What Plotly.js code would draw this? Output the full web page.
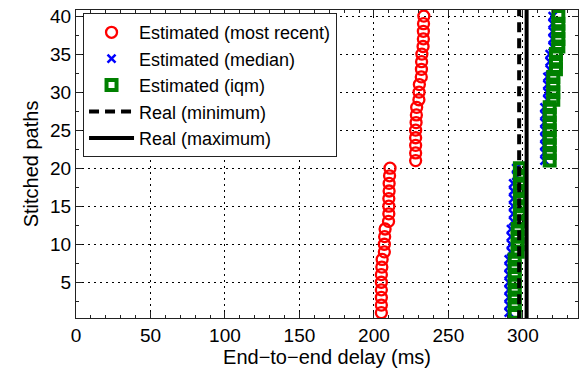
<!DOCTYPE html>
<html>
<head>
<meta charset="utf-8">
<script src="https://cdn.plot.ly/plotly-3.0.1.min.js"></script>
<style>html,body{margin:0;padding:0;background:#fff;}#chart{width:581px;height:369px;}</style>
</head>
<body>
<div id="chart"></div>
<script>
const paths = [1,2,3,4,5,6,7,8,9,10,11,12,13,14,15,16,17,18,19,20,21,22,23,24,25,26,27,28,29,30,31,32,33,34,35,36,37,38,39,40];
const mostRecent = [205,205,205,205,205,205,205.3,205.5, 207,207,207.2,207.5, 209.8,210,210,210,210.2,210.2,210.5,210.8,
  228,228,228,228,228,228.3,228.5,228.7, 230.2,230.3,230.5, 231.8,231.9,232,232.2, 233,233.2,233.2,233.3,233.5];
const median = [290.5,290.5,290.5,290.5,290.5,290.5,290.5,290.5, 292,292,292,292, 293.5,293.5,293.5,293.5,293.5,293.5,295.5,295.5,
  314.5,314.5,314.5,314.5,314.5,314.5,314.5,314.5, 316.5,316.5,316.5,316.5, 318,318,318, 320,320,320,320,320];
const iqm = [294.5,294.5,294.5,294.5,294.5,294.5,294.5,294.5, 296.5,296.5,296.5,296.5, 298,298,298,298,298,298,298,298,
  318,318,318,318,318,318,318,318, 320.4,320.4,320.4,320.4, 322.2,322.2,322.2, 323.8,323.8,323.8,323.8,323.8];
const realMin = [297.5, 297.5];
const realMax = [302.5, 302.5];
const realY = [0, 41];
const names = ['Estimated (most recent)','Estimated (median)','Estimated (iqm)','Real (minimum)','Real (maximum)'];
const xTicks = [0,50,100,150,200,250,300];
const yTicks = [5,10,15,20,25,30,35,40];

const FONT = 'Liberation Sans, Arial, sans-serif';
const traces = [
  {x: mostRecent, y: paths, name: names[0], mode: 'markers', type: 'scatter',
   marker: {symbol: 'circle-open', size: 11, color: 'red', line: {width: 2.3, color: 'red'}}},
  {x: median, y: paths, name: names[1], mode: 'markers', type: 'scatter',
   marker: {symbol: 'x-thin-open', size: 8, color: 'blue', line: {width: 2.5, color: 'blue'}}},
  {x: iqm, y: paths, name: names[2], mode: 'markers', type: 'scatter',
   marker: {symbol: 'square-open', size: 10, color: 'green', line: {width: 4, color: 'green'}}},
  {x: realMin, y: realY, name: names[3], mode: 'lines', type: 'scatter',
   line: {color: 'black', width: 4, dash: '10px,6px'}},
  {x: realMax, y: realY, name: names[4], mode: 'lines', type: 'scatter',
   line: {color: 'black', width: 4}}
];

const axisCommon = {
  showline: true, linecolor: '#222', linewidth: 1, mirror: 'allticks',
  ticks: 'inside', ticklen: 6, tickcolor: '#222', tickwidth: 1,
  showgrid: true, gridcolor: '#000', gridwidth: 1, griddash: '2px,4px',
  zeroline: false, tickfont: {family: FONT, size: 19, color: '#000'}
};

const layout = {
  width: 581, height: 369,
  margin: {l: 76, r: 3, t: 10, b: 51},
  paper_bgcolor: '#fff', plot_bgcolor: '#fff',
  font: {family: FONT, size: 18, color: '#000'},
  xaxis: Object.assign({}, axisCommon, {
    range: [0, 337], tickmode: 'array', tickvals: xTicks, ticktext: xTicks.map(String),
    minor: {dtick: 10, tick0: 0, ticks: 'inside', ticklen: 3, tickcolor: '#222', showgrid: false},
    title: {text: 'End\u2212to\u2212end delay (ms)', font: {family: FONT, size: 20}, standoff: 2}
  }),
  yaxis: Object.assign({}, axisCommon, {
    range: [0.3, 40.8], tickmode: 'array', tickvals: yTicks, ticktext: yTicks.map(String),
    minor: {dtick: 2.5, tick0: 0, ticks: 'inside', ticklen: 3, tickcolor: '#222', showgrid: false},
    title: {text: 'Stitched paths', font: {family: FONT, size: 20}, standoff: 6}
  }),
  showlegend: true,
  legend: {x: 0.014, y: 0.99, xanchor: 'left', yanchor: 'top',
    bgcolor: '#fff', bordercolor: '#222', borderwidth: 1,
    font: {family: FONT, size: 18, color: '#000'}, itemwidth: 45, tracegroupgap: 0}
};

Plotly.newPlot('chart', traces, layout, {displayModeBar: false, staticPlot: true});
</script>
</body>
</html>
